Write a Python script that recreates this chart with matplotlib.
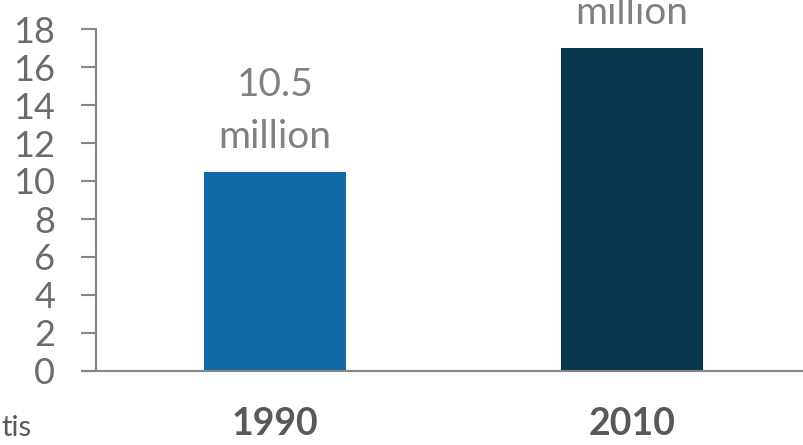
import matplotlib
matplotlib.use("Agg")
import matplotlib.pyplot as plt

years = ["1990", "2010"]
cases = [10.5, 17]
value_labels = ["10.5", "17"]
bar_colors = ["#0f6aa6", "#06374f"]
yticks = list(range(0, 19, 2))

plt.rcParams['font.family'] = ['Lato', 'DejaVu Sans']

fig = plt.figure(figsize=(8.04, 4.45), dpi=100)
ax = fig.add_axes([82 / 804, 74 / 445, (804 - 82) / 804, 342 / 445])

x = range(len(years))
bars = ax.bar(x, cases, width=0.398, color=bar_colors)

ax.set_xlim(-0.5406, 1.4818)
ax.set_ylim(0, 18)
ax.set_yticks(yticks)
ax.set_xticks(list(x))
ax.set_xticklabels(years, fontweight="bold")

gray = "#868686"
for s in ["top", "right"]:
    ax.spines[s].set_visible(False)
ax.spines["left"].set_position(("axes", 14 / 722))
ax.spines["left"].set_color(gray)
ax.spines["left"].set_linewidth(1.5)
ax.spines["bottom"].set_color(gray)
ax.spines["bottom"].set_linewidth(1.5)

ax.tick_params(axis="y", length=10.5, width=1.5, color=gray, pad=19,
               labelsize=26, labelcolor="#6b6b6b")
ax.tick_params(axis="x", length=0, pad=26, labelsize=27, labelcolor="#595959")

for b, lab in zip(bars, value_labels):
    cx = b.get_x() + b.get_width() / 2
    top = b.get_height()
    ax.annotate("million", (cx, top), xytext=(0, 17), textcoords="offset points",
                ha="center", va="baseline", fontsize=28, color="#808080",
                annotation_clip=False)
    ax.annotate(lab, (cx, top), xytext=(0, 54), textcoords="offset points",
                ha="center", va="baseline", fontsize=28, color="#808080",
                annotation_clip=False)

fig.text(1 / 804, 1 - 428 / 445, "tis", ha="left", va="center",
         fontsize=21, color="#595959")

fig.savefig("out.png", dpi=100)
